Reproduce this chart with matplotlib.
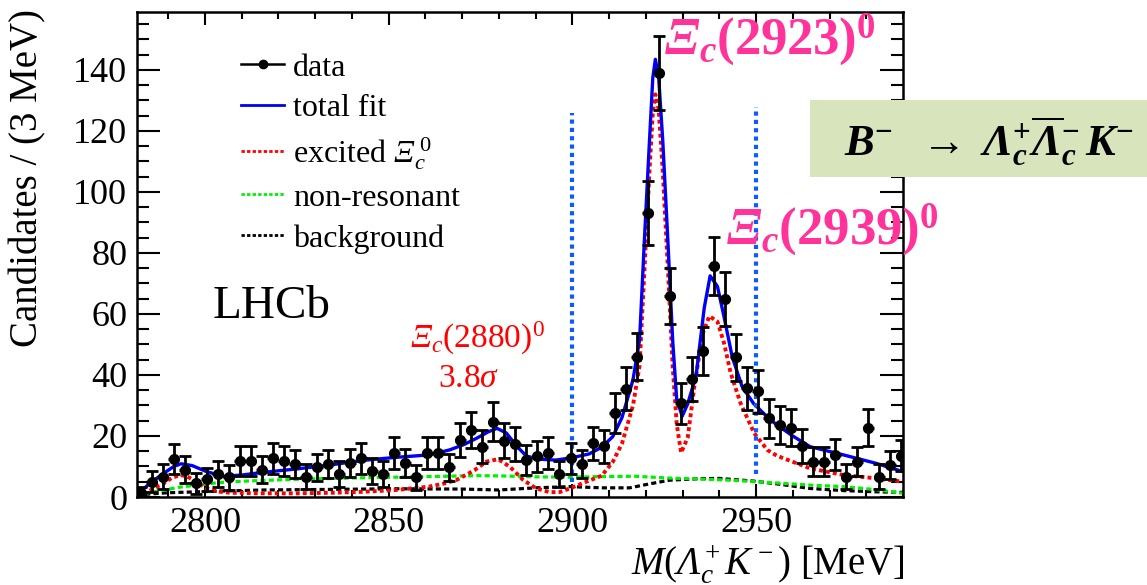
import matplotlib
matplotlib.use("Agg")
import matplotlib.pyplot as plt
from matplotlib.lines import Line2D
from matplotlib.patches import Rectangle
from matplotlib.ticker import MultipleLocator

plt.rcParams["font.family"] = ["Liberation Serif", "DejaVu Serif"]
plt.rcParams["mathtext.fontset"] = "custom"
plt.rcParams["mathtext.rm"] = "Liberation Serif"
plt.rcParams["mathtext.it"] = "Liberation Serif:italic"
plt.rcParams["mathtext.bf"] = "Liberation Serif:bold"
plt.rcParams["mathtext.bfit"] = "Liberation Serif:italic:bold"
plt.rcParams["mathtext.sf"] = "Liberation Serif:italic"   # used for italic capital Greek

# ---- data: M(Lc K) bin centres (3 MeV bins), candidates, errors ----
MASS = [2782.5 + 3 * k for k in range(70)]
COUNTS = [1.2, 5.0, 6.7, 12.5, 8.9, 4.5, 5.8, 7.5, 6.4, 11.8,
          11.8, 8.9, 12.7, 11.8, 10.8, 6.7, 9.7, 10.8, 7.5, 11.0,
          12.7, 8.6, 7.5, 14.5, 11.0, 6.4, 14.5, 14.5, 9.7, 18.7,
          22.0, 16.5, 24.7, 18.5, 17.4, 12.1, 13.4, 14.5, 7.5, 12.7,
          10.8, 17.6, 16.7, 27.6, 35.5, 46.0, 93.0, 139.0, 66.0, 30.7,
          38.6, 47.9, 75.8, 64.9, 45.8, 35.6, 34.7, 25.8, 23.6, 22.7,
          16.8, 11.6, 11.6, 13.8, 6.7, 11.6, 22.7, 6.7, 10.5, 13.5]
ERRORS = [2.2, 3.5, 4.0, 5.0, 4.4, 3.5, 3.8, 4.2, 4.0, 4.8,
          4.8, 4.4, 5.0, 4.8, 4.6, 4.0, 4.5, 4.6, 4.2, 4.6,
          5.0, 4.3, 4.2, 5.2, 4.6, 4.0, 5.2, 5.2, 4.5, 5.7,
          6.0, 5.4, 6.3, 5.6, 5.5, 5.0, 5.1, 5.2, 4.2, 5.0,
          4.6, 5.5, 5.4, 6.5, 7.0, 7.8, 10.5, 12.2, 9.2, 6.7,
          7.2, 7.9, 9.6, 9.0, 7.7, 7.0, 7.0, 6.3, 6.2, 6.1,
          5.5, 4.8, 4.8, 5.1, 4.0, 4.8, 6.1, 4.0, 4.6, 5.1]

# ---- fit components ----
FIT_X = [2781.5, 2785, 2788.8, 2791.5, 2793.5, 2796.5, 2800.5, 2805, 2810, 2816,
         2825, 2834, 2843, 2852, 2861, 2866.5, 2870.5, 2874, 2877, 2879.5,
         2882, 2885, 2887.5, 2891, 2895.5, 2900, 2904.5, 2908, 2911, 2913.5,
         2916.5, 2918.3, 2919.6, 2921, 2921.9, 2922.6, 2923.5, 2924.6, 2926, 2927.3,
         2928.4, 2929.9, 2931.4, 2933.7, 2935.9, 2937.5, 2939.5, 2941.3, 2943.5, 2946.2,
         2949.3, 2953, 2955.7, 2960, 2964.7, 2973.8, 2982.8, 2990]
FIT_Y = [0.7, 4.5, 7.8, 10.0, 10.9, 10.3, 8.3, 6.8, 7.2, 8.1,
         9.2, 10.5, 12.0, 13.0, 13.8, 15.4, 17.2, 19.3, 21.3, 22.5,
         21.0, 16.5, 13.4, 12.4, 12.1, 12.9, 14.1, 16.3, 19.8, 26.0,
         38.4, 51.5, 84.0, 117.0, 137.5, 143.5, 137.5, 117.0, 84.0, 51.5,
         32.0, 26.5, 30.5, 40.0, 62.0, 72.5, 69.0, 59.0, 46.0, 36.2,
         30.7, 26.3, 23.6, 20.0, 16.5, 13.8, 11.0, 8.3]

EXC_X = [2781.5, 2783.3, 2786, 2788.8, 2791, 2793.3, 2795, 2796.9, 2800.5, 2803.5,
         2806.9, 2815, 2825, 2835, 2843, 2852, 2861, 2865, 2868.5, 2871,
         2873.5, 2876.6, 2879.8, 2883, 2886.6, 2890.2, 2893.8, 2896.5, 2899.3, 2903.8,
         2908, 2911, 2913.5, 2916.5, 2918.3, 2919.6, 2921, 2921.9, 2922.6, 2923.5,
         2924.6, 2926, 2927.3, 2928.4, 2929.6, 2931.4, 2933.2, 2935.5, 2937.3, 2939.5,
         2941.3, 2943.1, 2945.8, 2949.5, 2953.1, 2955.7, 2964.7, 2973.8, 2982.8, 2990]
EXC_Y = [0.3, 0.9, 2.8, 4.5, 6.3, 7.2, 6.8, 5.6, 2.8, 1.8,
         1.4, 1.2, 1.2, 1.4, 1.7, 2.3, 3.4, 4.4, 5.6, 7.2,
         8.9, 11.6, 12.4, 9.9, 5.6, 2.8, 1.6, 1.6, 2.8, 5.0,
         7.0, 11.5, 17.5, 30.0, 43.0, 74.0, 107.0, 126.0, 132.0, 127.0,
         107.0, 75.0, 43.0, 24.0, 14.5, 19.5, 36.2, 53.7, 59.3, 57.5,
         50.4, 40.6, 30.7, 20.9, 15.4, 13.5, 9.4, 7.2, 6.1, 5.0]

NONRES_X = [2781.5, 2785, 2788.8, 2793, 2797.8, 2802, 2806.9, 2815, 2825, 2843,
            2861, 2874, 2881, 2890, 2900, 2908, 2917, 2926.4, 2934.6, 2945,
            2950, 2955.7, 2964.7, 2973.8, 2982.8, 2990]
NONRES_Y = [0.5, 1.5, 2.3, 3.2, 3.9, 4.5, 5.0, 5.4, 5.8, 6.3,
            6.7, 7.0, 6.9, 6.6, 6.5, 6.7, 6.8, 6.2, 5.9, 5.4,
            5.0, 4.6, 3.9, 3.4, 2.4, 1.2]

BKG_X = [2781.5, 2785, 2790, 2797.8, 2806, 2815.9, 2835, 2852, 2870, 2880,
         2890, 2899.3, 2908.3, 2915.6, 2921, 2926.4, 2934.6, 2940, 2949.5, 2955.7,
         2964.7, 2973.8, 2982.8, 2990]
BKG_Y = [0.5, 1.0, 1.4, 1.7, 2.0, 2.3, 2.5, 2.7, 2.6, 2.3,
         3.0, 3.4, 3.0, 3.0, 4.3, 5.5, 6.0, 6.1, 5.2, 4.3,
         2.8, 2.1, 1.7, 1.5]

WINDOW = [2900, 2950]          # blue dotted lines
WINDOW_Y = [(5.0, 126.0), (7.5, 128.0)]

W, H = 1147, 585


def fpx(x, y):
    return x / W, 1 - y / H


fig = plt.figure(figsize=(W / 100, H / 100), dpi=100)
ax = fig.add_axes([137 / W, 1 - 497 / H, (903 - 137) / W, (497 - 12) / H])

ax.plot(BKG_X, BKG_Y, color="black", lw=2.3, ls=(0, (1.6, 1.0)), zorder=2)
ax.plot(NONRES_X, NONRES_Y, color="#00f000", lw=2.3, ls=(0, (1.6, 1.0)), zorder=2)
ax.plot(EXC_X, EXC_Y, color="red", lw=2.8, ls=(0, (1.0, 0.8)), zorder=2.2)
ax.plot(FIT_X, FIT_Y, color="#0000f5", lw=2.4, zorder=2.4)

for xv, (y0, y1) in zip(WINDOW, WINDOW_Y):
    ax.plot([xv, xv], [y0, y1], color="#0a5cff", lw=3.0, ls=(0, (1.0, 1.0)), zorder=3)

ax.errorbar(MASS, COUNTS, yerr=ERRORS, fmt="none", ecolor="black", elinewidth=2.0,
            capsize=4.5, capthick=2.0, zorder=4)
ax.errorbar(MASS, COUNTS, xerr=1.5, fmt="o", color="black", ms=7, elinewidth=2.4,
            capsize=0, zorder=4.5)

ax.set_xlim(2781.5, 2990)
ax.set_ylim(0, 159)
ax.xaxis.set_major_locator(MultipleLocator(50))
ax.xaxis.set_minor_locator(MultipleLocator(10))
ax.yaxis.set_major_locator(MultipleLocator(20))
ax.yaxis.set_minor_locator(MultipleLocator(5))
ax.tick_params(direction="in", top=True, right=True, which="both", width=1.5,
               labelsize=26, pad=7)
ax.tick_params(axis="y", which="major", length=16.5)
ax.tick_params(axis="y", which="minor", length=8.5)
ax.tick_params(axis="x", which="major", length=9.5)
ax.tick_params(axis="x", which="minor", length=5)
for sp in ax.spines.values():
    sp.set_linewidth(1.8)

ax.set_ylabel("Candidates / (3 MeV)", fontsize=28, va="center")
ax.yaxis.set_label_coords(-0.143, 0.658)
ax.set_xlabel(r"$M(\mathsf{\Lambda}_c^+K^-)$ [MeV]", fontsize=28,
              ha="right", va="center")
ax.xaxis.set_label_coords(1.003, -0.14)

handles = [
    Line2D([], [], color="black", marker="o", ms=6, lw=1.8),
    Line2D([], [], color="#0000f5", lw=2.0),
    Line2D([], [], color="red", lw=2.0, ls=(0, (1.2, 0.8))),
    Line2D([], [], color="#00f000", lw=2.0, ls=(0, (1.2, 0.8))),
    Line2D([], [], color="black", lw=2.0, ls=(0, (1.2, 0.8))),
]
labels = ["data", "total fit", r"excited $\mathsf{\Xi}_c^{\ 0}$", "non-resonant", "background"]
ax.legend(handles, labels, loc="upper left", bbox_to_anchor=(0.136, 0.915), frameon=False,
          fontsize=23, handlelength=1.35, handletextpad=0.27, labelspacing=0.36,
          borderpad=0, borderaxespad=0)

ax.text(0.099, 0.392, "LHCb", transform=ax.transAxes, fontsize=34, va="center", ha="left")

# annotations
fig.text(*fpx(477, 338), r"$\mathsf{\Xi}_c(2880)^0$", color="red", fontsize=24,
         ha="center", va="center")
fig.text(*fpx(469, 379), r"$3.8\sigma$", color="red", fontsize=24, ha="center", va="center")

pink = "#ff3399"
fig.text(*fpx(664, 40), r"$\mathbfit{\Xi}_{\mathbfit{c}}\mathbf{(2923)}^{\mathbf{0}}$",
         color=pink, fontsize=38, ha="left", va="center", zorder=6)
fig.text(*fpx(726, 230), r"$\mathbfit{\Xi}_{\mathbfit{c}}\mathbf{(2939)}^{\mathbf{0}}$",
         color=pink, fontsize=38, ha="left", va="center", zorder=6)

box = Rectangle(fpx(810, 177), (W - 810) / W, 77 / H, transform=fig.transFigure,
                facecolor="#d8e4bc", edgecolor="none", zorder=5)
fig.add_artist(box)
fig.text(*fpx(989, 141),
         r"$\mathbfit{B}^{\mathbf{-}}\ \ \rightarrow\ \mathbfit{\Lambda}_{\mathbfit{c}}^{\mathbf{+}}"
         r"\overline{\mathbfit{\Lambda}}_{\mathbfit{c}}^{\mathbf{-}}\,\mathbfit{K}^{\mathbf{-}}$",
         fontsize=32, ha="center", va="center", zorder=6)

fig.savefig("out.png", dpi=100)
